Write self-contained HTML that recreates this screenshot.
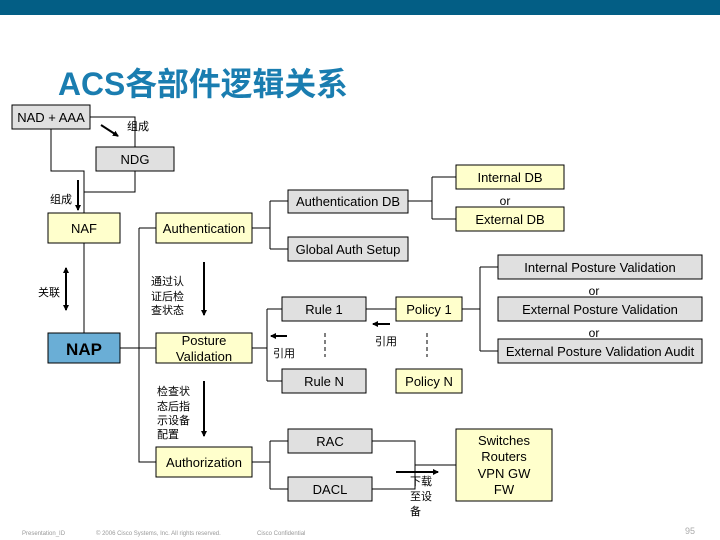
<!DOCTYPE html>
<html><head><meta charset="utf-8"><style>
html,body{margin:0;padding:0;background:#fff;width:720px;height:540px;overflow:hidden}
svg{display:block}
text{font-family:"Liberation Sans","Noto Sans CJK SC",sans-serif;font-size:13px;fill:#000}
.g{fill:#e0e0e0;stroke:#000;stroke-width:1}
.y{fill:#ffffcc;stroke:#000;stroke-width:1}
.l{stroke:#000;stroke-width:1;fill:none}
.a{stroke:#000;stroke-width:2;fill:none}
.f{font-size:6px;fill:#999}
</style></head><body>
<svg width="720" height="540" viewBox="0 0 720 540">
<defs><marker id="m" markerWidth="6" markerHeight="6" refX="5" refY="3" orient="auto" markerUnits="userSpaceOnUse"><path d="M0,0 L6,3 L0,6 z" fill="#000"/></marker></defs>
<rect x="0" y="0" width="720" height="15" fill="#035e85"/>
<text x="58" y="95" textLength="290" lengthAdjust="spacingAndGlyphs" style="font-size:32px;font-weight:bold;fill:#1a7db0">ACS各部件逻辑关系</text>

<!-- lines -->
<path class="l" d="M51,129 V171 H84 V213"/>
<path class="l" d="M90,117 H135 V147"/>
<path class="l" d="M135,171 V192 H84"/>
<path class="l" d="M84,243 V333"/>
<path class="l" d="M252,228 H270 M270,201 V249 M270,201 H288 M270,249 H288"/>
<path class="l" d="M408,201 H432 M432,177 V219 M432,177 H456 M432,219 H456"/>
<path class="l" d="M139,228 H156 M139,228 V462 H156"/>
<path class="l" d="M120,348 H156"/>
<path class="l" d="M252,348 H267 M267,309 V381 M267,309 H282 M267,381 H282"/>
<path class="l" d="M366,309 H396"/>
<path class="l" d="M462,309 H480 M480,267 V351 M480,267 H498 M480,351 H498"/>
<path class="l" d="M325,333 V357 M427,333 V357" stroke-dasharray="4,3"/>
<path class="l" d="M252,462 H270 M270,441 V489 M270,441 H288 M270,489 H288"/>
<path class="l" d="M372,441 H415 V489 H372 M415,465 H456"/>

<!-- arrows -->
<line class="a" x1="101" y1="125" x2="118" y2="136" marker-end="url(#m)"/>
<line class="a" x1="78" y1="180" x2="78" y2="210" marker-end="url(#m)"/>
<line class="a" x1="66" y1="290" x2="66" y2="268" marker-end="url(#m)"/>
<line class="a" x1="66" y1="290" x2="66" y2="310" marker-end="url(#m)"/>
<line class="a" x1="204" y1="262" x2="204" y2="315" marker-end="url(#m)"/>
<line class="a" x1="204" y1="381" x2="204" y2="436" marker-end="url(#m)"/>
<line class="a" x1="287" y1="336" x2="271" y2="336" marker-end="url(#m)"/>
<line class="a" x1="390" y1="324" x2="373" y2="324" marker-end="url(#m)"/>
<line class="a" x1="396" y1="472" x2="438" y2="472" marker-end="url(#m)"/>

<!-- boxes -->
<rect class="g" x="12" y="105" width="78" height="24"/><text x="51" y="122" text-anchor="middle">NAD + AAA</text>
<rect class="g" x="96" y="147" width="78" height="24"/><text x="135" y="164" text-anchor="middle">NDG</text>
<rect class="y" x="456" y="165" width="108" height="24"/><text x="510" y="182" text-anchor="middle">Internal DB</text>
<text x="505" y="205" text-anchor="middle" style="font-size:12px">or</text>
<rect class="y" x="456" y="207" width="108" height="24"/><text x="510" y="224" text-anchor="middle">External DB</text>
<rect class="g" x="288" y="190" width="120" height="23"/><text x="348" y="206" text-anchor="middle">Authentication DB</text>
<rect class="y" x="48" y="213" width="72" height="30"/><text x="84" y="233" text-anchor="middle">NAF</text>
<rect class="y" x="156" y="213" width="96" height="30"/><text x="204" y="233" text-anchor="middle">Authentication</text>
<rect class="g" x="288" y="237" width="120" height="24"/><text x="348" y="254" text-anchor="middle">Global Auth Setup</text>
<rect class="g" x="498" y="255" width="204" height="24"/><text x="600" y="272" text-anchor="middle">Internal Posture Validation</text>
<text x="594" y="295" text-anchor="middle" style="font-size:12px">or</text>
<rect class="g" x="498" y="297" width="204" height="24"/><text x="600" y="314" text-anchor="middle">External Posture Validation</text>
<text x="594" y="337" text-anchor="middle" style="font-size:12px">or</text>
<rect class="g" x="498" y="339" width="204" height="24"/><text x="600" y="356" text-anchor="middle">External Posture Validation Audit</text>
<rect class="g" x="282" y="297" width="84" height="24"/><text x="324" y="314" text-anchor="middle">Rule 1</text>
<rect class="g" x="282" y="369" width="84" height="24"/><text x="324" y="386" text-anchor="middle">Rule N</text>
<rect class="y" x="396" y="297" width="66" height="24"/><text x="429" y="314" text-anchor="middle">Policy 1</text>
<rect class="y" x="396" y="369" width="66" height="24"/><text x="429" y="386" text-anchor="middle">Policy N</text>
<rect x="48" y="333" width="72" height="30" fill="#6aaed6" stroke="#000"/><text x="84" y="355" text-anchor="middle" style="font-size:17px;font-weight:bold">NAP</text>
<rect class="y" x="156" y="333" width="96" height="30"/><text x="204" y="345" text-anchor="middle">Posture</text><text x="204" y="361" text-anchor="middle">Validation</text>
<rect class="y" x="156" y="447" width="96" height="30"/><text x="204" y="467" text-anchor="middle">Authorization</text>
<rect class="g" x="288" y="429" width="84" height="24"/><text x="330" y="446" text-anchor="middle">RAC</text>
<rect class="g" x="288" y="477" width="84" height="24"/><text x="330" y="494" text-anchor="middle">DACL</text>
<rect class="y" x="456" y="429" width="96" height="72"/>
<text x="504" y="445" text-anchor="middle">Switches</text><text x="504" y="461" text-anchor="middle">Routers</text><text x="504" y="478" text-anchor="middle">VPN GW</text><text x="504" y="494" text-anchor="middle">FW</text>

<!-- labels -->
<text x="127" y="130" style="font-size:11px">组成</text>
<text x="50" y="203" style="font-size:11px">组成</text>
<text x="38" y="296" style="font-size:11px">关联</text>
<text x="151" y="285" style="font-size:11px">通过认</text>
<text x="151" y="300" style="font-size:11px">证后检</text>
<text x="151" y="314" style="font-size:11px">查状态</text>
<text x="157" y="395" style="font-size:11px">检查状</text>
<text x="157" y="410" style="font-size:11px">态后指</text>
<text x="157" y="424" style="font-size:11px">示设备</text>
<text x="157" y="438" style="font-size:11px">配置</text>
<text x="273" y="357" style="font-size:11px">引用</text>
<text x="375" y="345" style="font-size:11px">引用</text>
<text x="410" y="485" style="font-size:11px">下载</text>
<text x="410" y="500" style="font-size:11px">至设</text>
<text x="410" y="515" style="font-size:11px">备</text>
<text class="f" x="22" y="535">Presentation_ID</text>
<text class="f" x="96" y="535">© 2006 Cisco Systems, Inc. All rights reserved.</text>
<text class="f" x="257" y="535">Cisco Confidential</text>
<text x="685" y="534" style="font-size:9px;fill:#aaa">95</text>
</svg>
</body></html>
